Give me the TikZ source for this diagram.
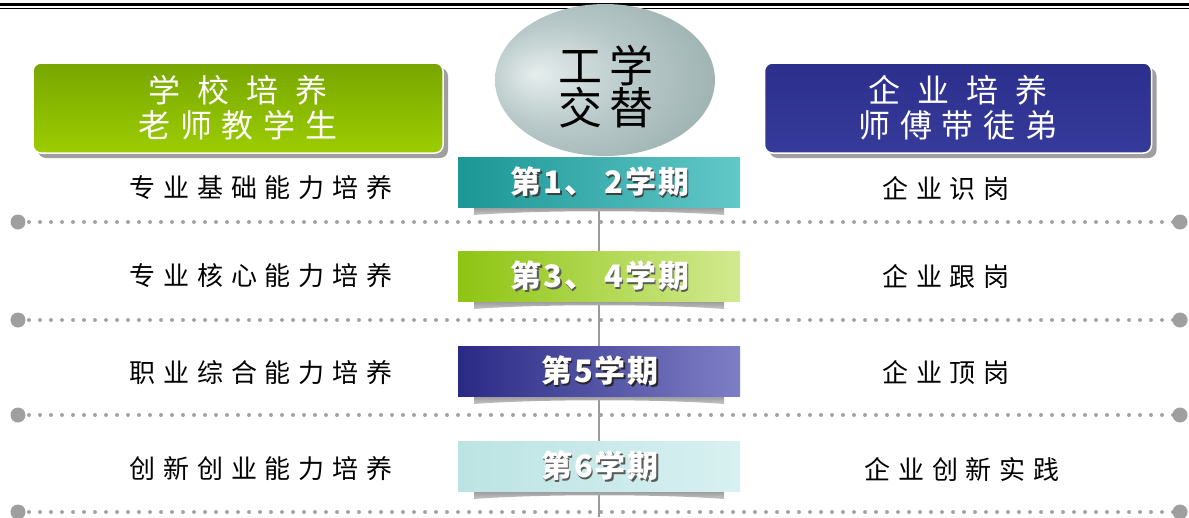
\documentclass[tikz,border=0pt]{standalone}
\usepackage{fontspec}
\setmainfont{Noto Sans CJK SC}
\newfontfamily\cjkwide{Noto Sans CJK SC}[LetterSpace=30]
\newfontfamily\cjkterm{Noto Sans CJK SC}[LetterSpace=6]
\newfontfamily\cjkball{Noto Sans CJK SC}[LetterSpace=14]
\usetikzlibrary{shapes.geometric,backgrounds,shadows}
\definecolor{leafdark}{HTML}{78A600}
\definecolor{leaf}{HTML}{9CCD00}
\definecolor{navy}{HTML}{2C2F8C}
\definecolor{navylight}{HTML}{363A9A}
\definecolor{ballhi}{HTML}{E6EDED}
\definecolor{ballmid}{HTML}{BACACA}
\definecolor{balledge}{HTML}{98ADAD}
\definecolor{balldark}{HTML}{7F9595}
\definecolor{dotgray}{HTML}{A3A3A3}
\definecolor{tealA}{HTML}{1C9696}
\definecolor{tealB}{HTML}{62C8C8}
\definecolor{greenA}{HTML}{8EC412}
\definecolor{greenB}{HTML}{D2EA90}
\definecolor{purpA}{HTML}{2A2A86}
\definecolor{purpB}{HTML}{7E7EC6}
\definecolor{iceA}{HTML}{BCE3E3}
\definecolor{iceB}{HTML}{D8F0F0}
\pgfdeclareradialshading{softball}{\pgfpoint{-16bp}{2bp}}{color(0bp)=(ballhi); color(16bp)=(ballmid); color(36bp)=(balledge); color(50bp)=(balldark)}
\tikzset{px/.style={x=1pt,y=-1pt,line width=1pt},
  titlebox/.style={rectangle,rounded corners=8pt,minimum height=90pt,
    draw=white,line width=1.5pt,text=white,align=center,
    font=\cjkwide\fontsize{32}{35}\selectfont,
    drop shadow={shadow xshift=5pt,shadow yshift=-5pt,fill=gray!75,opacity=1}},
  termbox/.style={rectangle,minimum width=282pt,minimum height=50pt,inner sep=0pt},
  termtxt/.style={font=\cjkterm\bfseries\fontsize{31}{34}\selectfont},
  rowtxt/.style={font=\cjkwide\fontsize{26}{30}\selectfont},
  dotrule/.style={dotgray,line width=4pt,line cap=round,dash pattern=on 0pt off 11pt}}

\begin{document}
\begin{tikzpicture}[px]
  \useasboundingbox (0,0) rectangle (1189,517);
  \draw[line width=3pt] (0,4.5)--(1189,4.5);
  \draw (0,8)--(1189,8);
  % separators
  \foreach \i/\y in {1/222,2/320,3/415,4/512}{
    \coordinate (dl\i) at (18,\y);
    \coordinate (dr\i) at (1180,\y);
    \draw[dotrule] (dl\i)--(dr\i);
    \fill[gray!75] (dl\i) circle (7.5) (dr\i) circle (7.5);}
  % ball
  \node[ellipse,minimum width=220pt,minimum height=152pt,shade,shading=softball] (ball) at (605,80) {};
  \node[align=center,font=\cjkball\fontsize{44}{42}\selectfont] (balltxt) at (606,87) {工学\\交替};
  % headers
  \node[titlebox,minimum width=410pt,top color=leafdark,bottom color=leaf] (school) at (238,108) {学 校 培 养\\老师教学生};
  \node[titlebox,minimum width=387pt,top color=navy,bottom color=navylight] (firm) at (958,108) {企 业 培 养\\师傅带徒弟};
  % terms
  \foreach \i/\y/\lc/\rc/\sh/\t/\l/\ly/\r/\rx in {
      1/182/tealA/tealB/black!75/{第1、 2学期}/专业基础能力培养/188/企业识岗/946,
      2/276/greenA/greenB/black!65/{第3、 4学期}/专业核心能力培养/276/企业跟岗/946,
      3/371/purpA/purpB/black!85/第5学期/职业综合能力培养/373/企业顶岗/946,
      4/466/iceA/iceB/black!65/第6学期/创新创业能力培养/469/企业创新实践/962}{
    \shade[top color=gray!85,bottom color=gray!45] (474,{\y+24})--(724,{\y+24})--(724,{\y+33})
      .. controls (660,{\y+28}) and (540,{\y+28}) .. (474,{\y+33})--cycle;
    \node[termbox,left color=\lc,right color=\rc] (s\i) at (599,\y) {};
    \node[termtxt,text=\sh] (s\i sh) at (601.5,{\y+1.5}) {\t};
    \node[termtxt,text=white] (s\i t) at (600,\y) {\t};
    \node[rowtxt] (lt\i) at (261,\ly) {\l};
    \node[rowtxt] (rt\i) at (\rx,\ly) {\r};}
  \coordinate (bot) at (599,517);
  \begin{scope}[on background layer]
    \draw[gray!80,line width=2pt] (s1.center)--(bot);
  \end{scope}
\end{tikzpicture}
\end{document}
